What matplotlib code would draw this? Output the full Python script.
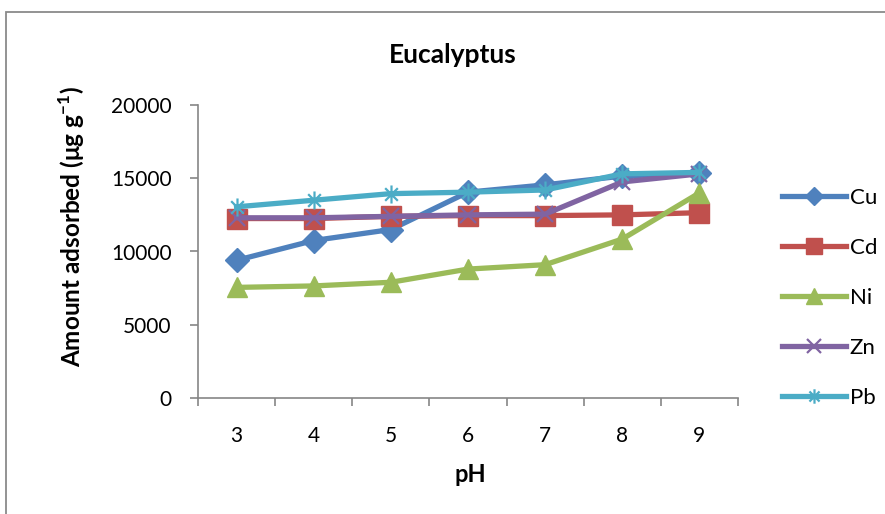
import matplotlib.pyplot as plt
from matplotlib.path import Path
from matplotlib.patches import Rectangle

plt.rcParams['font.family'] = ['Lato', 'DejaVu Sans']
plt.rcParams['mathtext.fontset'] = 'custom'
plt.rcParams['mathtext.rm'] = 'Lato'
plt.rcParams['mathtext.bf'] = 'Lato:bold'

# Data
ph = [3, 4, 5, 6, 7, 8, 9]
cu = [9400, 10750, 11500, 14050, 14550, 15150, 15350]
cd = [12250, 12250, 12400, 12450, 12450, 12500, 12650]
ni = [7550, 7650, 7900, 8800, 9100, 10850, 14000]
zn = [12300, 12300, 12400, 12500, 12550, 14750, 15300]
pb = [13050, 13500, 13950, 14050, 14200, 15300, 15400]

# Excel-style asterisk marker: an X plus a vertical bar
star = Path([(-0.7, -0.7), (0.7, 0.7), (-0.7, 0.7), (0.7, -0.7), (0, -1), (0, 1)],
            [Path.MOVETO, Path.LINETO, Path.MOVETO, Path.LINETO, Path.MOVETO, Path.LINETO])

fig = plt.figure(figsize=(8.85, 5.14), dpi=100)
ax = fig.add_axes([198 / 885, 1 - 398 / 514, 540 / 885, 293 / 514])

lw = 3.8
ax.plot(ph, cu, color='#4F81BD', lw=lw, marker='D', ms=12, label='Cu')
ax.plot(ph, cd, color='#C0504D', lw=lw, marker='s', ms=14, label='Cd')
ax.plot(ph, ni, color='#9BBB59', lw=lw, marker='^', ms=14, label='Ni')
ax.plot(ph, zn, color='#8064A2', lw=lw, marker='x', ms=12, mew=1.6, label='Zn')
ax.plot(ph, pb, color='#4BACC6', lw=lw, marker=star, ms=13, mew=1.6, label='Pb')

ax.set_xlim(2.5, 9.5)
ax.set_ylim(0, 20000)
ax.set_yticks([0, 5000, 10000, 15000, 20000])
ax.set_xticks(ph)
ax.set_xticks([x + 0.5 for x in [2] + ph], minor=True)
ax.tick_params(axis='x', which='major', length=0, pad=20, labelsize=15)
ax.tick_params(axis='x', which='minor', length=6, color='#868686', width=1.2)
ax.tick_params(axis='y', length=6, color='#868686', width=1.2, pad=13, labelsize=15)

for s in ['top', 'right']:
    ax.spines[s].set_visible(False)
for s in ['left', 'bottom']:
    ax.spines[s].set_color('#868686')
    ax.spines[s].set_linewidth(1.2)

fig.text(453 / 885, 1 - 55 / 514, 'Eucalyptus', ha='center', va='center',
         fontsize=19, fontweight='bold')
fig.text(470 / 885, 1 - 475 / 514, 'pH', ha='center', va='center',
         fontsize=17, fontweight='bold')
fig.text(72 / 885, 1 - 227 / 514, r'Amount adsorbed (μg g$^{\mathbf{-1}}$)',
         ha='center', va='center', rotation=90, fontsize=17.5, fontweight='bold')

fig.legend(loc='center left', bbox_to_anchor=(762 / 885, 1 - 298 / 514),
           frameon=False, fontsize=16, handlelength=2.9, labelspacing=1.35,
           handletextpad=0.15, markerscale=0.8)

# outer chart border (right and bottom run off the picture)
fig.patches.append(Rectangle((6 / 885, -0.1), 2, 1 - 12 / 514 + 0.1,
                             transform=fig.transFigure, fill=False,
                             edgecolor='#8a8a8a', lw=1.3))

fig.savefig('out.png', dpi=100)
